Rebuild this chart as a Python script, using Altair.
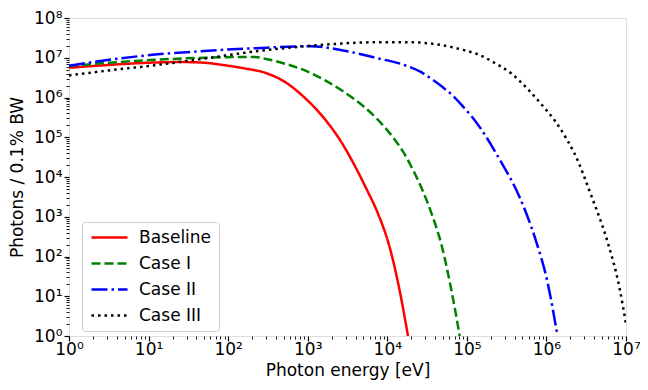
import altair as alt
import pandas as pd

SERIES = ["Baseline", "Case I", "Case II", "Case III"]
COLORS = ["#ff0000", "#008000", "#0000ff", "#000000"]
DASHES = [[1, 0], [9, 4], [16, 4, 2.5, 4], [2.5, 4]]

baseline_energy = [1, 3.2, 10, 25, 50, 85, 160, 290, 520, 920, 1630, 2640, 3860, 5650, 7400, 1.1e4, 1.41e4, 1.82e4]
baseline_photons = [5.6e6, 6.6e6, 7.5e6, 7.8e6, 7.5e6, 6.6e6, 5.4e6, 4.2e6, 2.45e6, 9.8e5, 2.9e5, 7.6e4, 2.0e4, 4.4e3, 1.4e3, 140, 16, 1.0]

case1_energy = [1, 3.2, 12, 50, 220, 292, 519, 920, 1633, 2897, 5140, 7534, 1.0965e4, 1.6218e4, 2.138e4, 2.754e4, 3.631e4, 4.786e4, 6.761e4, 8.128e4]
case1_photons = [6.2e6, 7.5e6, 8.9e6, 1.0e7, 1.05e7, 9.44e6, 7.08e6, 4.79e6, 2.75e6, 1.35e6, 5.75e5, 2.82e5, 1.2e5, 3.98e4, 1.41e4, 4.79e3, 1.15e3, 200, 7.9, 1.0]

case2_energy = [1, 3.2, 12, 50, 220, 1100, 2900, 7400, 1.62e4, 2.63e4, 3.8e4, 5.0e4, 6.8e4, 8.9e4, 1.2e5, 1.45e5, 2.57e5, 4.57e5, 7.24e5, 1.02e6, 1.38e6]
case2_photons = [6.3e6, 8.9e6, 1.2e7, 1.48e7, 1.74e7, 1.95e7, 1.5e7, 9.8e6, 6.6e6, 4.4e6, 2.7e6, 1.8e6, 1.07e6, 6.0e5, 3.0e5, 1.8e5, 2.8e4, 3.2e3, 280, 25, 1.0]

case3_energy = [1, 3.2, 12, 50, 220, 1100, 7400, 2.0e4, 4.0e4, 9.8e4, 1.32e5, 2.14e5, 3.63e5, 5.9e5, 8.9e5, 1.26e6, 1.74e6, 2.24e6, 3.7e6, 5.9e6, 8.3e6, 1.0e7]
case3_photons = [3.6e6, 4.8e6, 6.5e6, 9.5e6, 1.45e7, 2.0e7, 2.45e7, 2.45e7, 2.2e7, 1.5e7, 1.26e7, 7.8e6, 4.0e6, 1.58e6, 6.3e5, 2.7e5, 1.0e5, 4.0e4, 3.2e3, 224, 16, 2.0]

rows = []
for name, es, ns in [
    ("Baseline", baseline_energy, baseline_photons),
    ("Case I", case1_energy, case1_photons),
    ("Case II", case2_energy, case2_photons),
    ("Case III", case3_energy, case3_photons),
]:
    for e, n in zip(es, ns):
        rows.append({"series": name, "energy": e, "photons": n})
df = pd.DataFrame(rows)

x_ticks = [m * 10 ** k for k in range(0, 7) for m in range(1, 10)] + [10 ** 7]
y_ticks = [m * 10 ** k for k in range(0, 8) for m in range(1, 10)] + [10 ** 8]

is_major = "abs(log(datum.value)/LN10 - round(log(datum.value)/LN10)) < 0.001"
sup = "['\u2070','\u00b9','\u00b2','\u00b3','\u2074','\u2075','\u2076','\u2077','\u2078'][round(log(datum.value)/LN10)]"
label_expr = f"({is_major}) ? '10' + {sup} : ''"

FONT = "DejaVu Sans"

def make_axis(title, values, **kw):
    return alt.Axis(
        title=title,
        values=values,
        labelExpr=label_expr,
        labelOverlap=False,
        labelFlush=False,
        grid=False,
        domain=False,
        tickColor="black",
        tickSize={"condition": {"test": is_major, "value": 5}, "value": 3},
        tickWidth={"condition": {"test": is_major, "value": 1.2}, "value": 0.9},
        labelColor="black",
        labelFont=FONT,
        labelFontSize=17,
        titleFont=FONT,
        titleFontSize=17,
        titleFontWeight="normal",
        titleColor="black",
        **kw,
    )

legend = alt.Legend(
    title=None,
    orient="none",
    legendX=13,
    legendY=204,
    symbolType="M-1,0H5",
    symbolSize=144,
    symbolStrokeWidth=2.5,
    labelFont=FONT,
    labelFontSize=17,
    labelColor="black",
    labelOffset=33,
    rowPadding=8,
    padding=7,
    strokeColor="#cccccc",
    fillColor="rgba(255,255,255,0.8)",
    cornerRadius=3,
)

chart = (
    alt.Chart(df)
    .mark_line(strokeWidth=2.5, clip=True, interpolate="monotone")
    .encode(
        x=alt.X(
            "energy:Q",
            scale=alt.Scale(type="log", domain=[1, 1e7], nice=False),
            axis=make_axis("Photon energy [eV]", x_ticks, labelPadding=0, titlePadding=5),
        ),
        y=alt.Y(
            "photons:Q",
            scale=alt.Scale(type="log", domain=[1, 1e8], nice=False),
            axis=make_axis("Photons / 0.1% BW", y_ticks, labelPadding=2, titleX=-43, titleY=159),
        ),
        color=alt.Color("series:N", scale=alt.Scale(domain=SERIES, range=COLORS), legend=legend),
        strokeDash=alt.StrokeDash("series:N", scale=alt.Scale(domain=SERIES, range=DASHES), legend=legend),
        order=alt.Order("energy:Q"),
    )
    .properties(
        width=557,
        height=318,
        autosize=alt.AutoSizeParams(type="none"),
        padding={"left": 61, "top": 10, "right": 14, "bottom": 46},
    )
    .configure_view(stroke="black", strokeWidth=1.3)
    .configure(background="white")
)

chart.save("out.html", embed_options={"renderer": "svg", "actions": False})
